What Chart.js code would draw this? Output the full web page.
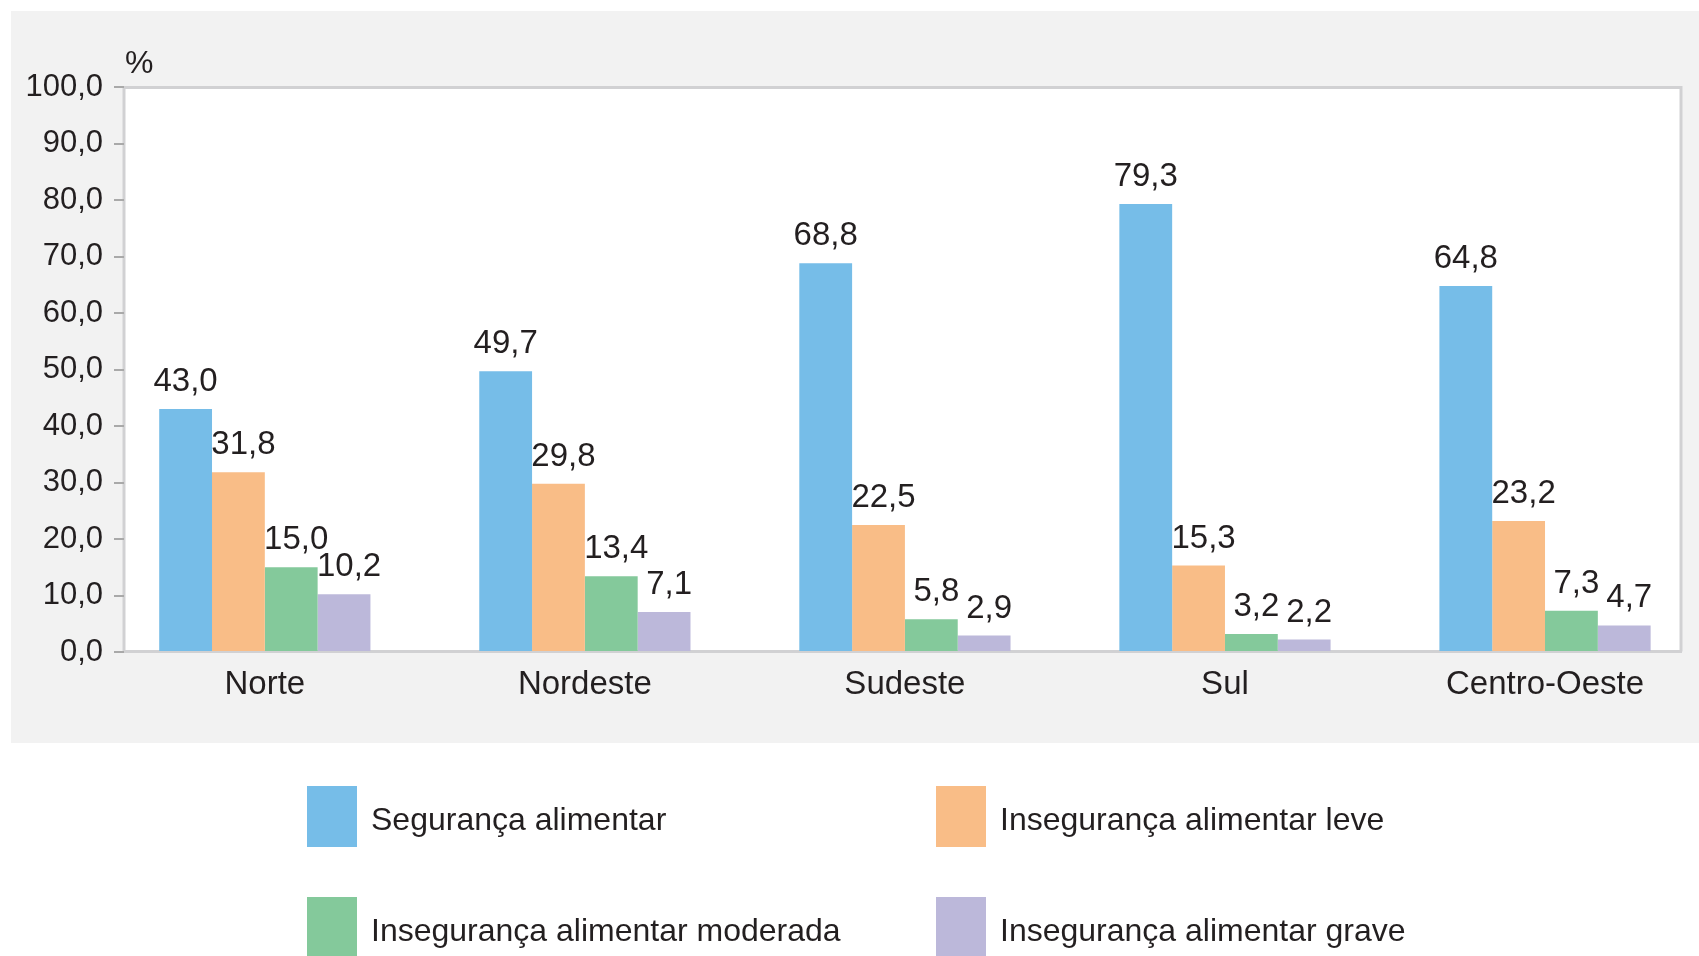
<!DOCTYPE html>
<html lang="pt-BR">
<head>
<meta charset="utf-8">
<title>Segurança alimentar por Grande Região</title>
<script src="https://cdn.jsdelivr.net/npm/chart.js@4.4.1/dist/chart.umd.min.js"></script>
<style>
  html, body { margin: 0; padding: 0; background: #fff; }
  #wrap { position: relative; width: 1699px; height: 956px; }
</style>
</head>
<body>
<div id="wrap"><canvas id="chart" width="1699" height="956"></canvas></div>
<script>
// Dados (%)
const regioes = ['Norte', 'Nordeste', 'Sudeste', 'Sul', 'Centro-Oeste'];
const nomesSeries = [
  'Segurança alimentar',
  'Insegurança alimentar leve',
  'Insegurança alimentar moderada',
  'Insegurança alimentar grave'
];
const seguranca = [43.0, 49.7, 68.8, 79.3, 64.8];
const insegLeve = [31.8, 29.8, 22.5, 15.3, 23.2];
const insegModerada = [15.0, 13.4, 5.8, 3.2, 7.3];
const insegGrave = [10.2, 7.1, 2.9, 2.2, 4.7];
const yMin = 0;
const yMax = 100;
const yPasso = 10;
const cores = ['#76bde8', '#f9bd87', '#84c99b', '#bcb8da'];

const FONTE = '"Liberation Sans", Arial, sans-serif';
const COR_TEXTO = '#231f20';

function fmt(v) {
  return Number(v).toFixed(1).replace('.', ',');
}

function pontos(valores) {
  return valores.map((v, i) => ({ x: i, y: v }));
}

// fundo cinza, área do gráfico branca com borda
const fundoPlugin = {
  id: 'fundo',
  beforeDraw(chart) {
    const { ctx, chartArea: a } = chart;
    ctx.save();
    ctx.fillStyle = '#fff';
    ctx.fillRect(0, 0, chart.width, chart.height);
    ctx.fillStyle = '#f2f2f2';
    ctx.fillRect(11, 11, chart.width - 11, 732);
    ctx.fillStyle = '#fff';
    ctx.fillRect(a.left, a.top, a.right - a.left, a.bottom - a.top);
    ctx.strokeStyle = '#d1d1d3';
    ctx.lineWidth = 3;
    ctx.beginPath();
    ctx.moveTo(a.left, a.bottom - 0.5);
    ctx.lineTo(a.left, a.top + 0.5);
    ctx.lineTo(a.right - 1, a.top + 0.5);
    ctx.lineTo(a.right - 1, a.bottom - 0.5);
    ctx.moveTo(a.left, a.bottom - 0.5);
    ctx.lineTo(a.right, a.bottom - 0.5);
    ctx.stroke();
    // unidade
    ctx.fillStyle = COR_TEXTO;
    ctx.font = '32px ' + FONTE;
    ctx.textAlign = 'left';
    ctx.textBaseline = 'alphabetic';
    ctx.fillText('%', a.left + 1, 73);
    ctx.restore();
  }
};

// rótulos de valor acima das barras
const rotulosPlugin = {
  id: 'rotulos',
  afterDatasetsDraw(chart) {
    const { ctx } = chart;
    ctx.save();
    ctx.fillStyle = COR_TEXTO;
    ctx.font = '33px ' + FONTE;
    ctx.textAlign = 'center';
    ctx.textBaseline = 'alphabetic';
    chart.data.datasets.forEach((ds, di) => {
      chart.getDatasetMeta(di).data.forEach((bar, i) => {
        const dx = di === 0 ? 0 : 5;
        ctx.fillText(fmt(ds.data[i].y), bar.x + dx, bar.y - 18);
      });
    });
    ctx.restore();
  }
};

// legenda em duas colunas
const legendaPlugin = {
  id: 'legenda',
  afterDraw(chart) {
    const { ctx } = chart;
    const colX = [307, 936];
    const linhaY = [786, 897];
    ctx.save();
    ctx.font = '32px ' + FONTE;
    ctx.textAlign = 'left';
    ctx.textBaseline = 'alphabetic';
    chart.data.datasets.forEach((ds, i) => {
      const x = colX[i % 2];
      const y = linhaY[Math.floor(i / 2)];
      ctx.fillStyle = ds.backgroundColor;
      ctx.fillRect(x, y, 50, 61);
      ctx.fillStyle = COR_TEXTO;
      ctx.fillText(ds.label, x + 64, y + 44);
    });
    ctx.restore();
  }
};

const series = [seguranca, insegLeve, insegModerada, insegGrave];

new Chart(document.getElementById('chart').getContext('2d'), {
  type: 'bar',
  data: {
    datasets: series.map((valores, i) => ({
      label: nomesSeries[i],
      data: pontos(valores),
      backgroundColor: cores[i],
      borderWidth: 0,
      categoryPercentage: 0.66,
      barPercentage: 1.0
    }))
  },
  options: {
    responsive: false,
    animation: false,
    layout: { padding: { top: 87, right: 17, bottom: 244, left: 0 } },
    plugins: {
      legend: { display: false },
      tooltip: { enabled: false }
    },
    scales: {
      x: {
        type: 'linear',
        offset: false,
        min: -0.44,
        max: 4.428,
        afterBuildTicks: s => { s.ticks = regioes.map((r, i) => ({ value: i })); },
        afterFit: s => { s.height = 60; },
        grid: { display: false },
        border: { display: false },
        ticks: {
          autoSkip: false,
          maxRotation: 0,
          padding: 5,
          color: COR_TEXTO,
          font: { family: FONTE, size: 33 },
          callback: v => regioes[v]
        }
      },
      y: {
        min: yMin,
        max: yMax,
        afterFit: s => { s.width = 124; },
        grid: {
          drawOnChartArea: false,
          drawTicks: true,
          tickLength: 10,
          color: '#a9a9a9',
          lineWidth: 2
        },
        border: { display: false },
        ticks: {
          stepSize: yPasso,
          padding: 11,
          color: COR_TEXTO,
          font: { family: FONTE, size: 31 },
          callback: v => fmt(v)
        }
      }
    }
  },
  plugins: [fundoPlugin, rotulosPlugin, legendaPlugin]
});
</script>
</body>
</html>
